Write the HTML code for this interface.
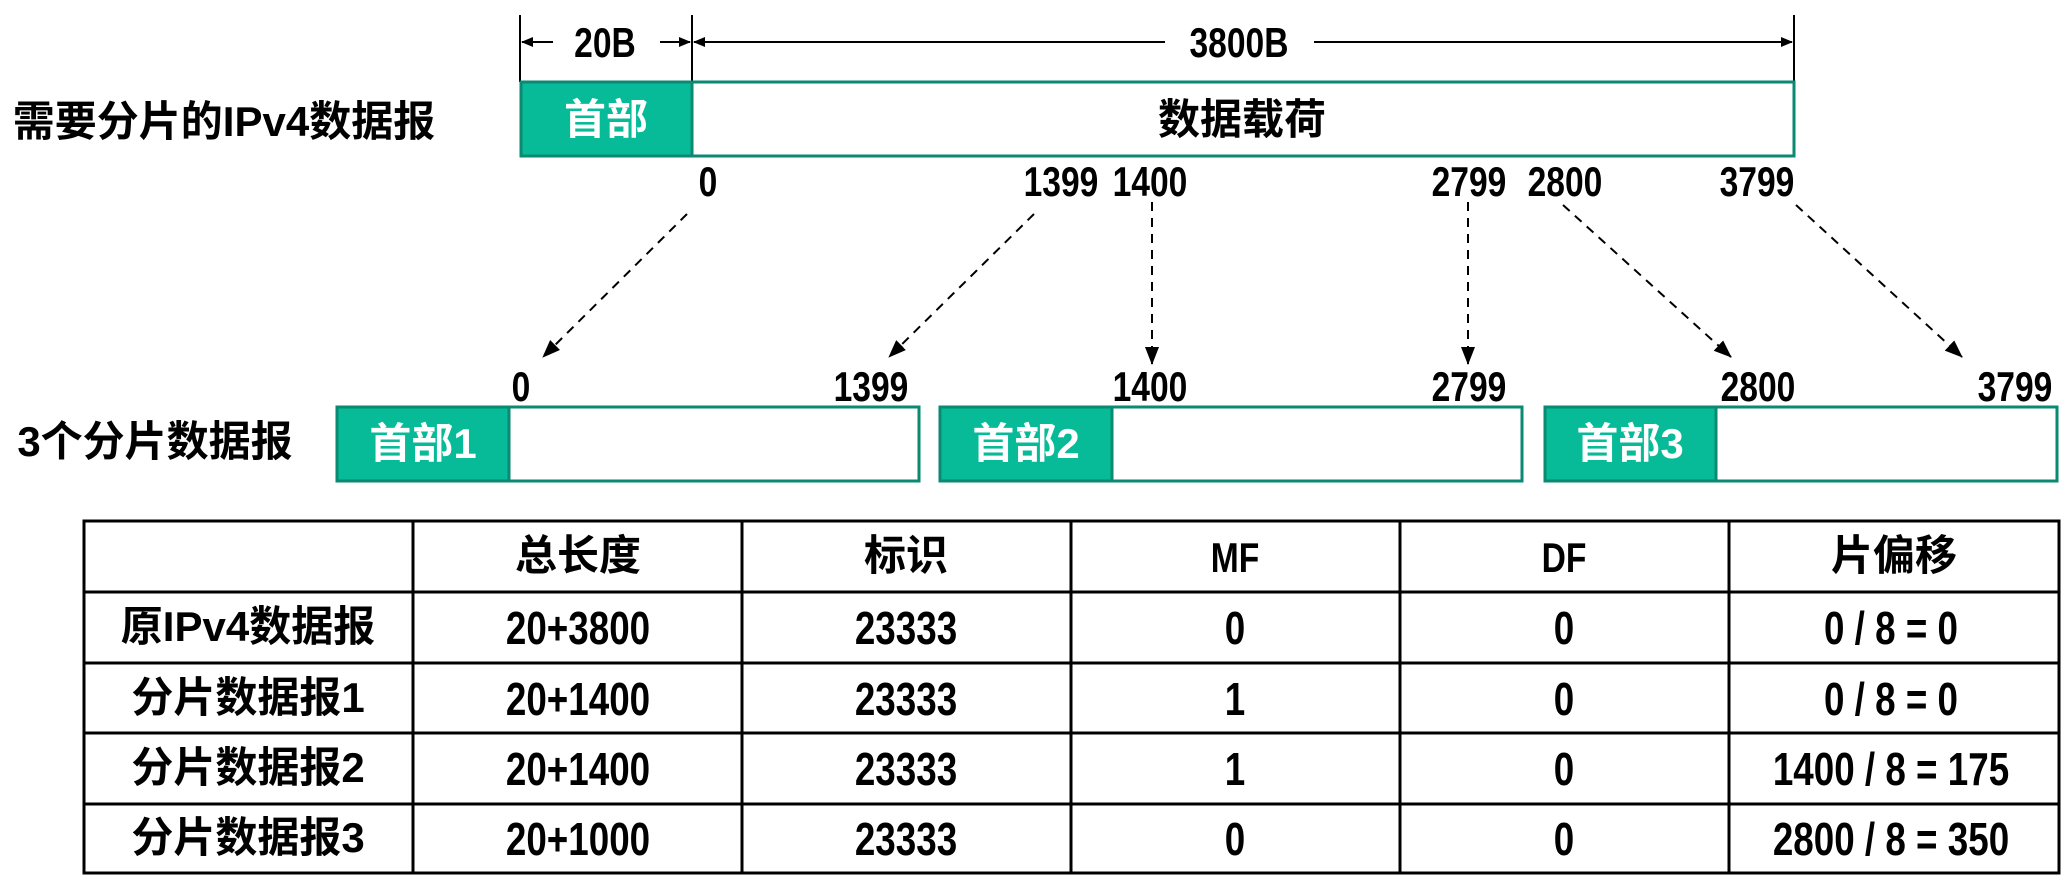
<!DOCTYPE html>
<html><head><meta charset="utf-8"><style>
body{margin:0;width:2066px;height:882px;background:#fff;position:relative;overflow:hidden;font-family:"Liberation Sans","Noto Sans CJK SC",sans-serif;font-weight:bold;color:#000}
.t{position:absolute;white-space:nowrap;line-height:1;transform:translate(-50%,-50%)}
.n{transform:translate(-50%,-50%) scaleX(0.8)}
.f40{font-size:42px}.f42{font-size:42px}.f44{font-size:46px}
.w{color:#fff}
</style></head><body>
<svg width="2066" height="882" style="position:absolute;left:0;top:0">
<defs><marker id="a" markerWidth="12" markerHeight="12" refX="11" refY="6" orient="auto" markerUnits="userSpaceOnUse"><path d="M0,1 L12,6 L0,11 Z" fill="#000"/></marker>
<marker id="b" markerWidth="18" markerHeight="18" refX="17" refY="7" orient="auto" markerUnits="userSpaceOnUse"><path d="M0,0 L18,7 L0,14 Z" fill="#000"/></marker></defs>
<g stroke="#000" stroke-width="2">
<line x1="520" y1="15" x2="520" y2="82"/><line x1="692" y1="15" x2="692" y2="82"/><line x1="1794" y1="15" x2="1794" y2="82"/>
<line x1="553" y1="42" x2="522" y2="42" marker-end="url(#a)"/>
<line x1="660" y1="42" x2="690" y2="42" marker-end="url(#a)"/>
<line x1="1165" y1="42" x2="694" y2="42" marker-end="url(#a)"/>
<line x1="1314" y1="42" x2="1792" y2="42" marker-end="url(#a)"/>
</g>
<rect x="521" y="82" width="1273" height="74" fill="#fff" stroke="#0a8a72" stroke-width="3"/>
<rect x="521" y="82" width="171" height="74" fill="#07BA98" stroke="#0a8a72" stroke-width="3"/>
<g stroke="#0a8a72" stroke-width="3">
<rect x="337" y="407" width="582" height="74" fill="#fff"/><rect x="337" y="407" width="172" height="74" fill="#07BA98"/>
<rect x="940" y="407" width="582" height="74" fill="#fff"/><rect x="940" y="407" width="172" height="74" fill="#07BA98"/>
<rect x="1545" y="407" width="512" height="74" fill="#fff"/><rect x="1545" y="407" width="171" height="74" fill="#07BA98"/>
</g>
<g stroke="#000" stroke-width="2" stroke-dasharray="9,7" fill="none">
<line x1="687" y1="214" x2="543" y2="357" marker-end="url(#b)"/>
<line x1="1034" y1="214" x2="889" y2="357" marker-end="url(#b)"/>
<line x1="1152" y1="202" x2="1152" y2="364" marker-end="url(#b)"/>
<line x1="1468" y1="202" x2="1468" y2="364" marker-end="url(#b)"/>
<line x1="1563" y1="205" x2="1731" y2="357" marker-end="url(#b)"/>
<line x1="1796" y1="205" x2="1962" y2="357" marker-end="url(#b)"/>
</g>
<g stroke="#000" stroke-width="3" fill="none">
<rect x="84" y="521" width="1975" height="352"/>
<line x1="84" y1="592" x2="2059" y2="592"/><line x1="84" y1="663" x2="2059" y2="663"/>
<line x1="84" y1="733" x2="2059" y2="733"/><line x1="84" y1="804" x2="2059" y2="804"/>
<line x1="413" y1="521" x2="413" y2="873"/><line x1="742" y1="521" x2="742" y2="873"/>
<line x1="1071" y1="521" x2="1071" y2="873"/><line x1="1400" y1="521" x2="1400" y2="873"/>
<line x1="1729" y1="521" x2="1729" y2="873"/>
</g>
</svg>
<div class="t n f40" style="left:605px;top:43px">20B</div>
<div class="t n f40" style="left:1239px;top:43px">3800B</div>
<div class="t f42" style="left:224px;top:122px">需要分片的IPv4数据报</div>
<div class="t f42 w" style="left:606px;top:120px">首部</div>
<div class="t f42" style="left:1242px;top:120px">数据载荷</div>
<div class="t n f40" style="left:708px;top:182px">0</div>
<div class="t n f40" style="left:1061px;top:182px">1399</div>
<div class="t n f40" style="left:1150px;top:182px">1400</div>
<div class="t n f40" style="left:1469px;top:182px">2799</div>
<div class="t n f40" style="left:1565px;top:182px">2800</div>
<div class="t n f40" style="left:1757px;top:182px">3799</div>
<div class="t n f40" style="left:521px;top:387px">0</div>
<div class="t n f40" style="left:871px;top:387px">1399</div>
<div class="t n f40" style="left:1150px;top:387px">1400</div>
<div class="t n f40" style="left:1469px;top:387px">2799</div>
<div class="t n f40" style="left:1758px;top:387px">2800</div>
<div class="t n f40" style="left:2015px;top:387px">3799</div>
<div class="t f42" style="left:155px;top:442px">3个分片数据报</div>
<div class="t f42 w" style="left:423px;top:444px">首部1</div>
<div class="t f42 w" style="left:1026px;top:444px">首部2</div>
<div class="t f42 w" style="left:1630px;top:444px">首部3</div>
<div class="t f42" style="left:578px;top:556px">总长度</div>
<div class="t f42" style="left:906px;top:556px">标识</div>
<div class="t n f40" style="left:1235px;top:558px">MF</div>
<div class="t n f40" style="left:1564px;top:558px">DF</div>
<div class="t f42" style="left:1894px;top:556px">片偏移</div>
<div class="t f42" style="left:248px;top:627px">原IPv4数据报</div>
<div class="t f42" style="left:248px;top:698px">分片数据报1</div>
<div class="t f42" style="left:248px;top:768px">分片数据报2</div>
<div class="t f42" style="left:248px;top:838px">分片数据报3</div>
<div class="t n f44" style="left:578px;top:628px">20+3800</div>
<div class="t n f44" style="left:578px;top:699px">20+1400</div>
<div class="t n f44" style="left:578px;top:769px">20+1400</div>
<div class="t n f44" style="left:578px;top:839px">20+1000</div>
<div class="t n f44" style="left:906px;top:628px">23333</div>
<div class="t n f44" style="left:906px;top:699px">23333</div>
<div class="t n f44" style="left:906px;top:769px">23333</div>
<div class="t n f44" style="left:906px;top:839px">23333</div>
<div class="t n f44" style="left:1235px;top:628px">0</div>
<div class="t n f44" style="left:1235px;top:699px">1</div>
<div class="t n f44" style="left:1235px;top:769px">1</div>
<div class="t n f44" style="left:1235px;top:839px">0</div>
<div class="t n f44" style="left:1564px;top:628px">0</div>
<div class="t n f44" style="left:1564px;top:699px">0</div>
<div class="t n f44" style="left:1564px;top:769px">0</div>
<div class="t n f44" style="left:1564px;top:839px">0</div>
<div class="t n f44" style="left:1891px;top:628px">0 / 8 = 0</div>
<div class="t n f44" style="left:1891px;top:699px">0 / 8 = 0</div>
<div class="t n f44" style="left:1891px;top:769px">1400 / 8 = 175</div>
<div class="t n f44" style="left:1891px;top:839px">2800 / 8 = 350</div>
</body></html>
